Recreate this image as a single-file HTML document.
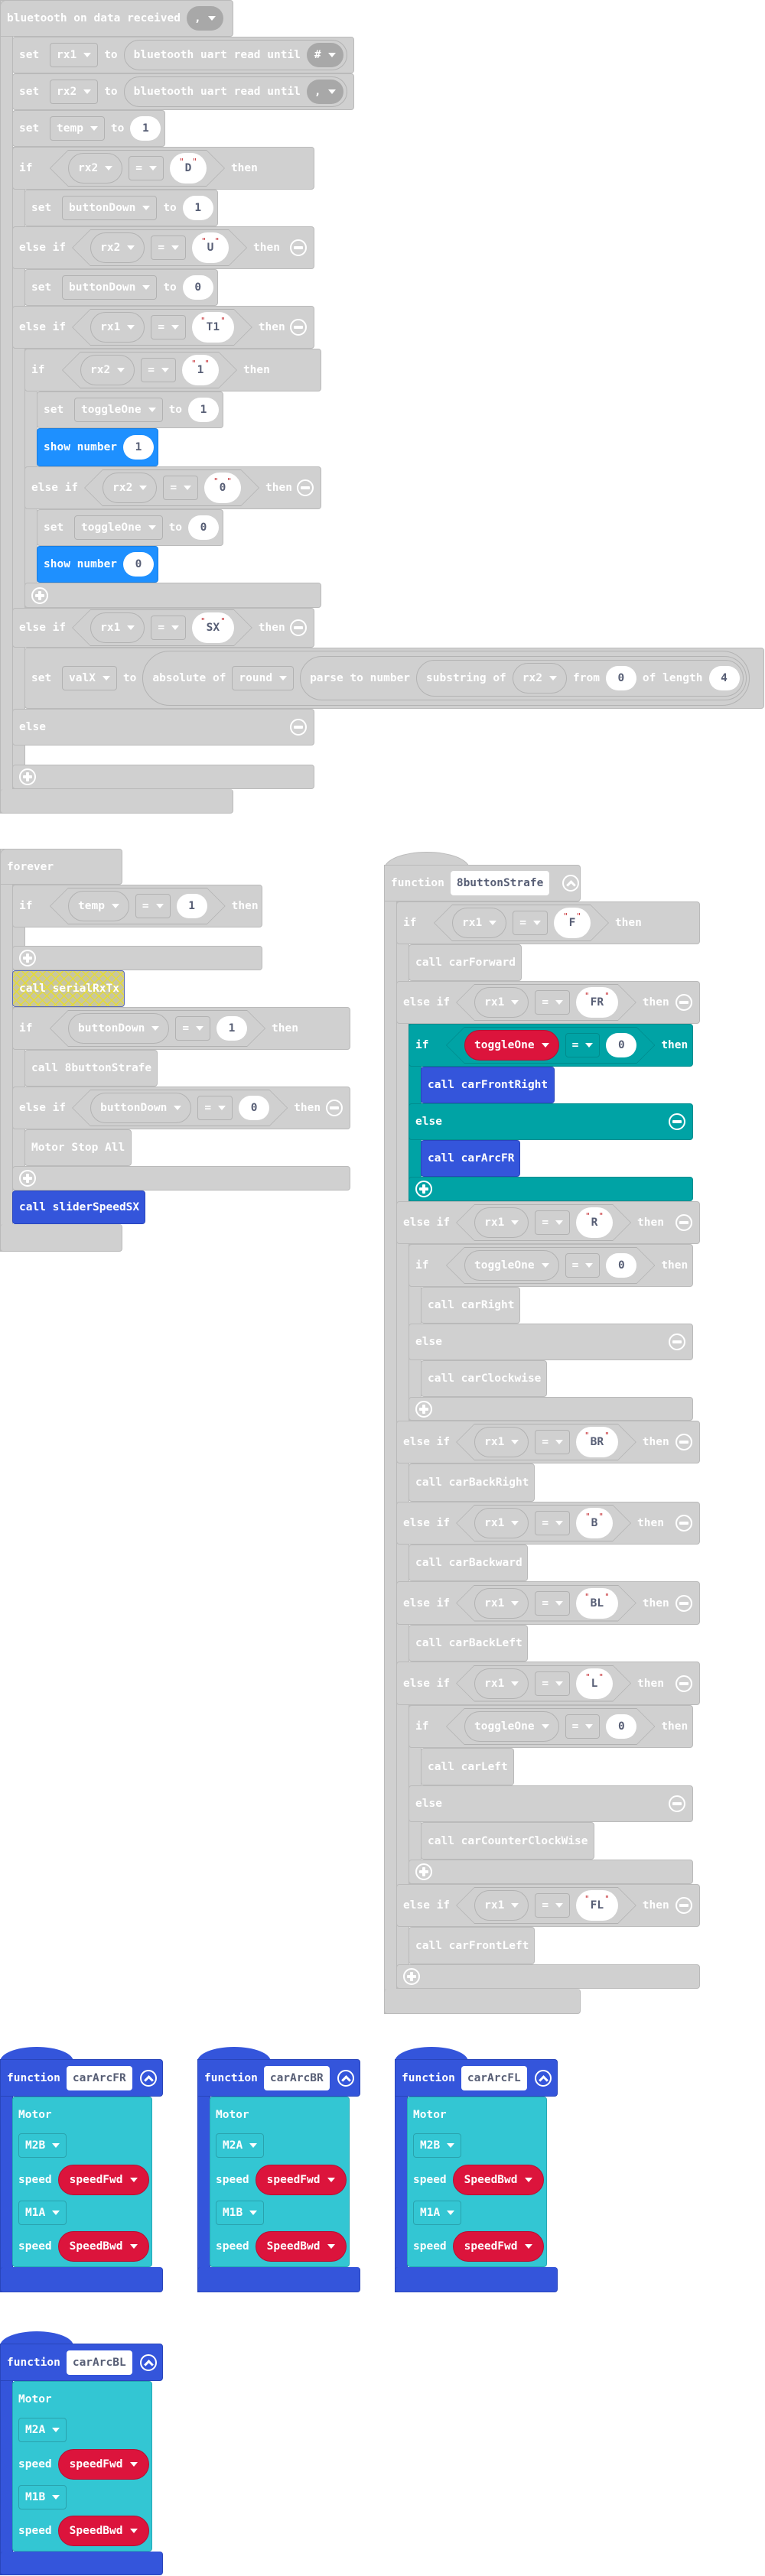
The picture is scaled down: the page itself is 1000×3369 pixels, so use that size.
<!DOCTYPE html>
<html><head><meta charset="utf-8"><style>
body{margin:0;width:1000px;height:3369px;position:relative;background:#fff;overflow:hidden;font-family:"DejaVu Sans Mono","Liberation Mono",monospace;font-weight:bold;font-size:14.5px;color:#fff}
.r{position:absolute;display:flex;align-items:center;gap:8px;padding-left:8px;box-sizing:border-box;border:1px solid;border-radius:4px;white-space:nowrap}
.rail{position:absolute;box-sizing:border-box;border:1px solid}
.g{background:#d0d0d0;border-color:#bababa;--c:#d0d0d0}
.tl{background:#00a3a5;border-color:#008d8f;--c:#00a3a5}
.bl{background:#3455db;border-color:#2945bb;--c:#3455db}
.sb{background:#1e90ff;border-color:#1a7ee0;--c:#1e90ff}
.cy{background:#33c6d3;border-color:#25a9b5;--c:#33c6d3}
.w32{display:inline-block;width:32px}
.dd{display:flex;align-items:center;height:32px;padding:0 8px;border:1px solid rgba(0,0,0,.14);border-radius:4px;box-sizing:border-box}
.p{display:flex;align-items:center;height:40px;padding:0 12px;border:1px solid rgba(0,0,0,.14);border-radius:20px;box-sizing:border-box}
.red{background:#dc143c;border-color:#b51032}
i{display:inline-block;width:0;height:0;border-left:5px solid transparent;border-right:5px solid transparent;border-top:6px solid #fff;margin-left:9px}
.n{display:flex;align-items:center;justify-content:center;background:#fff;color:#575e75;height:32px;min-width:40px;border-radius:16px;padding:0 12px;box-sizing:border-box}
.s{display:flex;align-items:center;justify-content:center;background:#fff;color:#575e75;height:40px;min-width:48px;border-radius:20px;padding:0 10px;box-sizing:border-box}
.s b{color:#c4262b;font-size:11px;font-weight:normal;align-self:flex-start;margin:5px 1px 0}
.hx{display:flex;align-items:center;gap:8px;height:48px;padding:0 24px;position:relative}
.hx::before{content:"";position:absolute;inset:0;background:rgba(0,0,0,.15);clip-path:polygon(0 50%,24px 0,calc(100% - 24px) 0,100% 50%,calc(100% - 24px) 100%,24px 100%)}
.hx::after{content:"";position:absolute;inset:1px;background:var(--c);clip-path:polygon(0 50%,23px 0,calc(100% - 23px) 0,100% 50%,calc(100% - 23px) 100%,23px 100%)}
.hx>*{position:relative;z-index:1}
.mi,.pl,.up{position:absolute;width:22px;height:22px;border:2px solid #fff;border-radius:50%;box-sizing:border-box}
.mi{right:9px}
.mi::after,.pl::after,.pl::before{content:"";position:absolute;background:#fff;left:3px;top:7px;width:12px;height:4px;border-radius:1px}
.pl{left:8px}
.pl::before{left:7px;top:3px;width:4px;height:12px}
.up::after{content:"";position:absolute;left:5px;top:7px;width:6px;height:6px;border-left:3px solid #fff;border-top:3px solid #fff;transform:rotate(45deg)}
.rp{display:flex;align-items:center;gap:8px;height:40px;padding:0 4px 0 12px;border:1px solid rgba(0,0,0,.14);border-radius:20px;box-sizing:border-box}
.dk{display:flex;align-items:center;height:32px;padding:0 10px;background:#a8a8a8;border-radius:16px}
.nm{display:flex;align-items:center;background:#fff;color:#575e75;height:32px;padding:0 8px;border-radius:4px;box-sizing:border-box}
.hat{position:absolute;height:24px;border-radius:60px 60px 0 0/24px 24px 0 0}
.hatch{background:#c8c6a0;background-image:repeating-linear-gradient(45deg,#e3da3c 0 1.5px,transparent 1.5px 8px),repeating-linear-gradient(-45deg,#e3da3c 0 1.5px,transparent 1.5px 8px);border-color:#5a6ab8}
.np{position:absolute;display:flex;flex-direction:column;gap:0}
</style></head><body>

<!-- EVENT BLOCK -->
<div class="rail g" style="left:0;top:0;width:17px;height:1064px"></div>
<div class="rail g" style="left:16px;top:192px;width:17px;height:840px"></div>
<div class="rail g" style="left:32px;top:456px;width:17px;height:339px"></div>
<div class="r g" style="left:0;top:0;width:305px;height:48px;border-radius:8px 4px 4px 0">bluetooth on data received<span class="dk">,<i></i></span></div>
<div class="r g" style="left:16px;top:48px;width:447px;height:48px"><span class="w32">set</span><span class="dd">rx1<i></i></span>to<span class="rp">bluetooth uart read until<span class="dk">#<i></i></span></span></div>
<div class="r g" style="left:16px;top:96px;width:447px;height:48px"><span class="w32">set</span><span class="dd">rx2<i></i></span>to<span class="rp">bluetooth uart read until<span class="dk">,<i></i></span></span></div>
<div class="r g" style="left:16px;top:144px;width:200px;height:48px"><span class="w32">set</span><span class="dd">temp<i></i></span>to<span class="n">1</span></div>
<div class="r g" style="left:16px;top:192px;width:395px;height:56px"><span class="w32">if</span><span class="hx"><span class="p">rx2<i></i></span><span class="dd">=<i></i></span><span class="s"><b>"</b>D<b>"</b></span></span>then</div>
<div class="r g" style="left:32px;top:248px;width:253px;height:48px"><span class="w32">set</span><span class="dd">buttonDown<i></i></span>to<span class="n">1</span></div>
<div class="r g" style="left:16px;top:296px;width:395px;height:56px">else if<span class="hx"><span class="p">rx2<i></i></span><span class="dd">=<i></i></span><span class="s"><b>"</b>U<b>"</b></span></span>then<span class="mi"></span></div>
<div class="r g" style="left:32px;top:352px;width:253px;height:48px"><span class="w32">set</span><span class="dd">buttonDown<i></i></span>to<span class="n">0</span></div>
<div class="r g" style="left:16px;top:400px;width:395px;height:56px">else if<span class="hx"><span class="p">rx1<i></i></span><span class="dd">=<i></i></span><span class="s"><b>"</b>T1<b>"</b></span></span>then<span class="mi"></span></div>
<div class="r g" style="left:32px;top:456px;width:388px;height:56px"><span class="w32">if</span><span class="hx"><span class="p">rx2<i></i></span><span class="dd">=<i></i></span><span class="s"><b>"</b>1<b>"</b></span></span>then</div>
<div class="r g" style="left:48px;top:512px;width:244px;height:48px"><span class="w32">set</span><span class="dd">toggleOne<i></i></span>to<span class="n">1</span></div>
<div class="r sb" style="left:48px;top:560px;width:159px;height:50px">show number<span class="n">1</span></div>
<div class="r g" style="left:32px;top:610px;width:388px;height:56px">else if<span class="hx"><span class="p">rx2<i></i></span><span class="dd">=<i></i></span><span class="s"><b>"</b>0<b>"</b></span></span>then<span class="mi"></span></div>
<div class="r g" style="left:48px;top:666px;width:244px;height:48px"><span class="w32">set</span><span class="dd">toggleOne<i></i></span>to<span class="n">0</span></div>
<div class="r sb" style="left:48px;top:714px;width:159px;height:48px">show number<span class="n">0</span></div>
<div class="r g" style="left:32px;top:762px;width:388px;height:33px"><span class="pl"></span></div>
<div class="r g" style="left:16px;top:795px;width:395px;height:52px">else if<span class="hx"><span class="p">rx1<i></i></span><span class="dd">=<i></i></span><span class="s"><b>"</b>SX<b>"</b></span></span>then<span class="mi"></span></div>
<div class="r g" style="left:32px;top:847px;width:967px;height:80px"><span class="w32">set</span><span class="dd">valX<i></i></span>to<span class="rp" style="height:72px;border-radius:36px;padding-right:3px;gap:8px">absolute of<span class="dd">round<i></i></span><span class="rp" style="height:58px;border-radius:29px;padding-right:3px">parse to number<span class="rp" style="height:48px;border-radius:24px;padding-right:4px">substring of<span class="p">rx2<i></i></span>from<span class="n">0</span>of length<span class="n">4</span></span></span></span></div>
<div class="r g" style="left:16px;top:927px;width:395px;height:48px">else<span class="mi"></span></div>
<div class="r g" style="left:16px;top:1000px;width:395px;height:32px"><span class="pl"></span></div>
<div class="r g" style="left:0;top:1032px;width:305px;height:32px;border-top:none"></div>

<!-- FOREVER -->
<div class="rail g" style="left:0;top:1110px;width:17px;height:527px"></div>
<div class="rail g" style="left:16px;top:1157px;width:17px;height:112px"></div>
<div class="rail g" style="left:16px;top:1317px;width:17px;height:240px"></div>
<div class="r g" style="left:0;top:1110px;width:160px;height:47px;border-radius:8px 4px 4px 0">forever</div>
<div class="r g" style="left:16px;top:1157px;width:327px;height:56px"><span class="w32">if</span><span class="hx"><span class="p">temp<i></i></span><span class="dd">=<i></i></span><span class="n">1</span></span>then</div>
<div class="r g" style="left:16px;top:1237px;width:327px;height:32px"><span class="pl"></span></div>
<div class="r hatch" style="left:16px;top:1269px;width:147px;height:48px">call serialRxTx</div>
<div class="r g" style="left:16px;top:1317px;width:442px;height:56px"><span class="w32">if</span><span class="hx"><span class="p">buttonDown<i></i></span><span class="dd">=<i></i></span><span class="n">1</span></span>then</div>
<div class="r g" style="left:32px;top:1373px;width:174px;height:48px">call 8buttonStrafe</div>
<div class="r g" style="left:16px;top:1421px;width:442px;height:56px">else if<span class="hx"><span class="p">buttonDown<i></i></span><span class="dd">=<i></i></span><span class="n">0</span></span>then<span class="mi"></span></div>
<div class="r g" style="left:32px;top:1477px;width:140px;height:48px">Motor Stop All</div>
<div class="r g" style="left:16px;top:1525px;width:442px;height:32px"><span class="pl"></span></div>
<div class="r bl" style="left:16px;top:1557px;width:174px;height:44px">call sliderSpeedSX</div>
<div class="r g" style="left:0;top:1601px;width:160px;height:36px;border-top:none"></div>

<!-- FUNCTION 8buttonStrafe -->
<div class="hat g" style="left:502px;top:1114px;width:110px;border:1px solid #bababa;border-bottom:none"></div>
<div class="rail g" style="left:502px;top:1131px;width:17px;height:1503px"></div>
<div class="rail g" style="left:518px;top:1179px;width:17px;height:1422px"></div>
<div class="rail tl" style="left:534px;top:1339px;width:17px;height:232px"></div>
<div class="rail g" style="left:534px;top:1627px;width:17px;height:231px"></div>
<div class="rail g" style="left:534px;top:2230px;width:17px;height:234px"></div>
<div class="r g" style="left:502px;top:1131px;width:257px;height:48px;border-radius:0 4px 4px 0">function<span class="nm">8buttonStrafe</span><span class="up" style="left:232px"></span></div>
<div class="r g" style="left:518px;top:1179px;width:397px;height:56px"><span class="w32">if</span><span class="hx"><span class="p">rx1<i></i></span><span class="dd">=<i></i></span><span class="s"><b>"</b>F<b>"</b></span></span>then</div>
<div class="r g" style="left:534px;top:1235px;width:148px;height:48px">call carForward</div>
<div class="r g" style="left:518px;top:1283px;width:397px;height:56px">else if<span class="hx"><span class="p">rx1<i></i></span><span class="dd">=<i></i></span><span class="s"><b>"</b>FR<b>"</b></span></span>then<span class="mi"></span></div>
<div class="r tl" style="left:534px;top:1339px;width:372px;height:56px"><span class="w32">if</span><span class="hx"><span class="p red">toggleOne<i></i></span><span class="dd">=<i></i></span><span class="n">0</span></span>then</div>
<div class="r bl" style="left:550px;top:1395px;width:175px;height:48px">call carFrontRight</div>
<div class="r tl" style="left:534px;top:1443px;width:372px;height:48px">else<span class="mi"></span></div>
<div class="r bl" style="left:550px;top:1491px;width:130px;height:48px">call carArcFR</div>
<div class="r tl" style="left:534px;top:1539px;width:372px;height:32px"><span class="pl"></span></div>
<div class="r g" style="left:518px;top:1571px;width:397px;height:56px">else if<span class="hx"><span class="p">rx1<i></i></span><span class="dd">=<i></i></span><span class="s"><b>"</b>R<b>"</b></span></span>then<span class="mi"></span></div>
<div class="r g" style="left:534px;top:1627px;width:372px;height:56px"><span class="w32">if</span><span class="hx"><span class="p">toggleOne<i></i></span><span class="dd">=<i></i></span><span class="n">0</span></span>then</div>
<div class="r g" style="left:550px;top:1683px;width:130px;height:48px">call carRight</div>
<div class="r g" style="left:534px;top:1731px;width:372px;height:48px">else<span class="mi"></span></div>
<div class="r g" style="left:550px;top:1779px;width:165px;height:48px">call carClockwise</div>
<div class="r g" style="left:534px;top:1827px;width:372px;height:31px"><span class="pl"></span></div>
<div class="r g" style="left:518px;top:1858px;width:397px;height:56px">else if<span class="hx"><span class="p">rx1<i></i></span><span class="dd">=<i></i></span><span class="s"><b>"</b>BR<b>"</b></span></span>then<span class="mi"></span></div>
<div class="r g" style="left:534px;top:1914px;width:165px;height:50px">call carBackRight</div>
<div class="r g" style="left:518px;top:1964px;width:397px;height:56px">else if<span class="hx"><span class="p">rx1<i></i></span><span class="dd">=<i></i></span><span class="s"><b>"</b>B<b>"</b></span></span>then<span class="mi"></span></div>
<div class="r g" style="left:534px;top:2020px;width:156px;height:48px">call carBackward</div>
<div class="r g" style="left:518px;top:2068px;width:397px;height:57px">else if<span class="hx"><span class="p">rx1<i></i></span><span class="dd">=<i></i></span><span class="s"><b>"</b>BL<b>"</b></span></span>then<span class="mi"></span></div>
<div class="r g" style="left:534px;top:2125px;width:156px;height:48px">call carBackLeft</div>
<div class="r g" style="left:518px;top:2173px;width:397px;height:57px">else if<span class="hx"><span class="p">rx1<i></i></span><span class="dd">=<i></i></span><span class="s"><b>"</b>L<b>"</b></span></span>then<span class="mi"></span></div>
<div class="r g" style="left:534px;top:2230px;width:372px;height:56px"><span class="w32">if</span><span class="hx"><span class="p">toggleOne<i></i></span><span class="dd">=<i></i></span><span class="n">0</span></span>then</div>
<div class="r g" style="left:550px;top:2286px;width:122px;height:49px">call carLeft</div>
<div class="r g" style="left:534px;top:2335px;width:372px;height:48px">else<span class="mi"></span></div>
<div class="r g" style="left:550px;top:2383px;width:227px;height:49px">call carCounterClockWise</div>
<div class="r g" style="left:534px;top:2432px;width:372px;height:32px"><span class="pl"></span></div>
<div class="r g" style="left:518px;top:2464px;width:397px;height:56px">else if<span class="hx"><span class="p">rx1<i></i></span><span class="dd">=<i></i></span><span class="s"><b>"</b>FL<b>"</b></span></span>then<span class="mi"></span></div>
<div class="r g" style="left:534px;top:2520px;width:165px;height:49px">call carFrontLeft</div>
<div class="r g" style="left:518px;top:2569px;width:397px;height:32px"><span class="pl"></span></div>
<div class="r g" style="left:502px;top:2601px;width:257px;height:33px;border-top:none"></div>

<!-- MOTOR FUNCTIONS -->
<div style="position:absolute;left:0;top:2693px;width:215px;height:306px">
<div class="hat bl" style="left:0;top:-16px;width:96px"></div>
<div class="rail bl" style="left:0;top:0;width:17px;height:305px"></div>
<div class="r bl" style="left:0;top:0;width:213px;height:49px;border-radius:0 4px 4px 0">function<span class="nm">carArcFR</span><span class="up" style="left:182px"></span></div>
<div class="rail cy" style="left:16px;top:49px;width:183px;height:223px;border-radius:4px"></div>
<div class="r bl" style="left:0;top:272px;width:213px;height:33px;border-top:none"></div>
<div style="position:absolute;left:24px;top:65px">Motor</div>
<div class="dd" style="position:absolute;left:24px;top:97px;width:63px;border-color:rgba(0,0,0,.18)">M2B<i></i></div>
<div style="position:absolute;left:24px;top:138px;display:flex;align-items:center;gap:8px">speed<span class="p red" style="padding:0 14px">speedFwd<i></i></span></div>
<div class="dd" style="position:absolute;left:24px;top:185px;width:63px;border-color:rgba(0,0,0,.18)">M1A<i></i></div>
<div style="position:absolute;left:24px;top:225px;display:flex;align-items:center;gap:8px">speed<span class="p red" style="padding:0 14px">SpeedBwd<i></i></span></div>
</div>

<div style="position:absolute;left:258px;top:2693px;width:215px;height:306px">
<div class="hat bl" style="left:0;top:-16px;width:96px"></div>
<div class="rail bl" style="left:0;top:0;width:17px;height:305px"></div>
<div class="r bl" style="left:0;top:0;width:213px;height:49px;border-radius:0 4px 4px 0">function<span class="nm">carArcBR</span><span class="up" style="left:182px"></span></div>
<div class="rail cy" style="left:16px;top:49px;width:183px;height:223px;border-radius:4px"></div>
<div class="r bl" style="left:0;top:272px;width:213px;height:33px;border-top:none"></div>
<div style="position:absolute;left:24px;top:65px">Motor</div>
<div class="dd" style="position:absolute;left:24px;top:97px;width:63px;border-color:rgba(0,0,0,.18)">M2A<i></i></div>
<div style="position:absolute;left:24px;top:138px;display:flex;align-items:center;gap:8px">speed<span class="p red" style="padding:0 14px">speedFwd<i></i></span></div>
<div class="dd" style="position:absolute;left:24px;top:185px;width:63px;border-color:rgba(0,0,0,.18)">M1B<i></i></div>
<div style="position:absolute;left:24px;top:225px;display:flex;align-items:center;gap:8px">speed<span class="p red" style="padding:0 14px">SpeedBwd<i></i></span></div>
</div>

<div style="position:absolute;left:516px;top:2693px;width:215px;height:306px">
<div class="hat bl" style="left:0;top:-16px;width:96px"></div>
<div class="rail bl" style="left:0;top:0;width:17px;height:305px"></div>
<div class="r bl" style="left:0;top:0;width:213px;height:49px;border-radius:0 4px 4px 0">function<span class="nm">carArcFL</span><span class="up" style="left:182px"></span></div>
<div class="rail cy" style="left:16px;top:49px;width:183px;height:223px;border-radius:4px"></div>
<div class="r bl" style="left:0;top:272px;width:213px;height:33px;border-top:none"></div>
<div style="position:absolute;left:24px;top:65px">Motor</div>
<div class="dd" style="position:absolute;left:24px;top:97px;width:63px;border-color:rgba(0,0,0,.18)">M2B<i></i></div>
<div style="position:absolute;left:24px;top:138px;display:flex;align-items:center;gap:8px">speed<span class="p red" style="padding:0 14px">SpeedBwd<i></i></span></div>
<div class="dd" style="position:absolute;left:24px;top:185px;width:63px;border-color:rgba(0,0,0,.18)">M1A<i></i></div>
<div style="position:absolute;left:24px;top:225px;display:flex;align-items:center;gap:8px">speed<span class="p red" style="padding:0 14px">speedFwd<i></i></span></div>
</div>

<div style="position:absolute;left:0;top:3065px;width:215px;height:304px">
<div class="hat bl" style="left:0;top:-16px;width:96px"></div>
<div class="rail bl" style="left:0;top:0;width:17px;height:303px"></div>
<div class="r bl" style="left:0;top:0;width:213px;height:49px;border-radius:0 4px 4px 0">function<span class="nm">carArcBL</span><span class="up" style="left:182px"></span></div>
<div class="rail cy" style="left:16px;top:49px;width:183px;height:223px;border-radius:4px"></div>
<div class="r bl" style="left:0;top:272px;width:213px;height:31px;border-top:none"></div>
<div style="position:absolute;left:24px;top:65px">Motor</div>
<div class="dd" style="position:absolute;left:24px;top:97px;width:63px;border-color:rgba(0,0,0,.18)">M2A<i></i></div>
<div style="position:absolute;left:24px;top:138px;display:flex;align-items:center;gap:8px">speed<span class="p red" style="padding:0 14px">speedFwd<i></i></span></div>
<div class="dd" style="position:absolute;left:24px;top:185px;width:63px;border-color:rgba(0,0,0,.18)">M1B<i></i></div>
<div style="position:absolute;left:24px;top:225px;display:flex;align-items:center;gap:8px">speed<span class="p red" style="padding:0 14px">SpeedBwd<i></i></span></div>
</div>

</body></html>
